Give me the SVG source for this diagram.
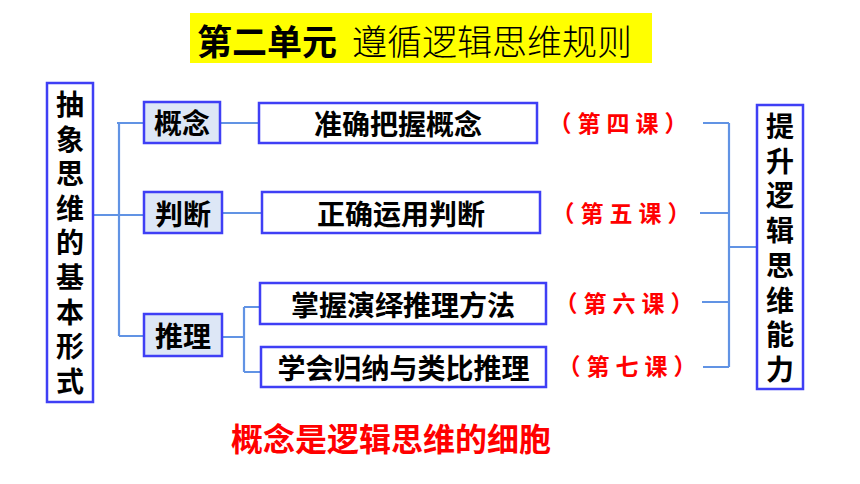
<svg xmlns="http://www.w3.org/2000/svg" width="860" height="484" viewBox="0 0 860 484">
<style>
.box{fill:#ffffff;stroke:#3f3ff5;stroke-width:2.5}
.cbox{fill:#dde7f6;stroke:#3f3ff5;stroke-width:2.5}
.t{font-family:"Noto Sans CJK SC","Noto Sans CJK TC",sans-serif;font-weight:bold;fill:#000;text-anchor:middle;dominant-baseline:central}
.red{font-family:"Noto Sans CJK SC",sans-serif;font-weight:bold;fill:#ff0000;text-anchor:middle;dominant-baseline:central}
.lab{font-size:23px;letter-spacing:6px}
.c{fill:none;stroke:#6193e4;stroke-width:2.2}
</style>
<rect width="860" height="484" fill="#ffffff"/>
<g id="title">
<rect x="190" y="13" width="462" height="50" fill="#ffff00"/>
<text x="197" y="39" font-size="35" style="font-family:'Noto Sans CJK SC',sans-serif;dominant-baseline:central"><tspan font-weight="bold">第二单元</tspan><tspan x="352" font-weight="300">遵循逻辑思维规则</tspan></text>
</g>
<g id="connectors">
<path class="c" d="M93 215H144M117 123H144M119 123V336M119 336H144"/>
<path class="c" d="M220 123H259M222 213H262"/>
<path class="c" d="M222 337H244M244 307V372M244 307H260M244 372H261"/>
<path class="c" d="M703 123H729M700 213H729M702 302H729M703 367H729M729 123V367M729 247H757"/>
</g>
<g id="left">
<rect class="box" x="47" y="83" width="46" height="319"/>
<text class="t" font-size="28"><tspan x="70" y="103">抽</tspan><tspan x="70" y="137.6">象</tspan><tspan x="70" y="172.2">思</tspan><tspan x="70" y="206.8">维</tspan><tspan x="70" y="241.4">的</tspan><tspan x="70" y="276">基</tspan><tspan x="70" y="310.6">本</tspan><tspan x="70" y="345.2">形</tspan><tspan x="70" y="379.8">式</tspan></text>
</g>
<g id="gainian">
<rect class="cbox" x="144" y="102" width="76" height="41"/>
<text class="t" x="182" y="122" font-size="28">概念</text>
</g>
<g id="panduan">
<rect class="cbox" x="144" y="192" width="78" height="41"/>
<text class="t" x="183" y="213" font-size="28">判断</text>
</g>
<g id="tuili">
<rect class="cbox" x="144" y="314" width="78" height="42"/>
<text class="t" x="183" y="335" font-size="28">推理</text>
</g>
<g id="n1">
<rect class="box" x="259" y="103" width="278" height="40"/>
<text class="t" x="398" y="123" font-size="28">准确把握概念</text>
</g>
<g id="n2">
<rect class="box" x="262" y="192" width="278" height="41"/>
<text class="t" x="401" y="213" font-size="28">正确运用判断</text>
</g>
<g id="n3">
<rect class="box" x="260" y="283" width="286" height="41"/>
<text class="t" x="403" y="304" font-size="28">掌握演绎推理方法</text>
</g>
<g id="n4">
<rect class="box" x="261" y="347" width="285" height="40"/>
<text class="t" x="403.5" y="367" font-size="28">学会归纳与类比推理</text>
</g>
<g id="labels">
<text class="red lab" x="621" y="122">（第四课）</text>
<text class="red lab" x="624" y="212">（第五课）</text>
<text class="red lab" x="627" y="302">（第六课）</text>
<text class="red lab" x="630" y="365">（第七课）</text>
</g>
<g id="right">
<rect class="box" x="757" y="105" width="46" height="284"/>
<text class="t" font-size="28"><tspan x="780" y="125">提</tspan><tspan x="780" y="159.7">升</tspan><tspan x="780" y="194.4">逻</tspan><tspan x="780" y="229.1">辑</tspan><tspan x="780" y="263.8">思</tspan><tspan x="780" y="298.5">维</tspan><tspan x="780" y="333.2">能</tspan><tspan x="780" y="367.9">力</tspan></text>
</g>
<g id="note">
<text class="red" x="391" y="437" font-size="32">概念是逻辑思维的细胞</text>
</g>
</svg>
